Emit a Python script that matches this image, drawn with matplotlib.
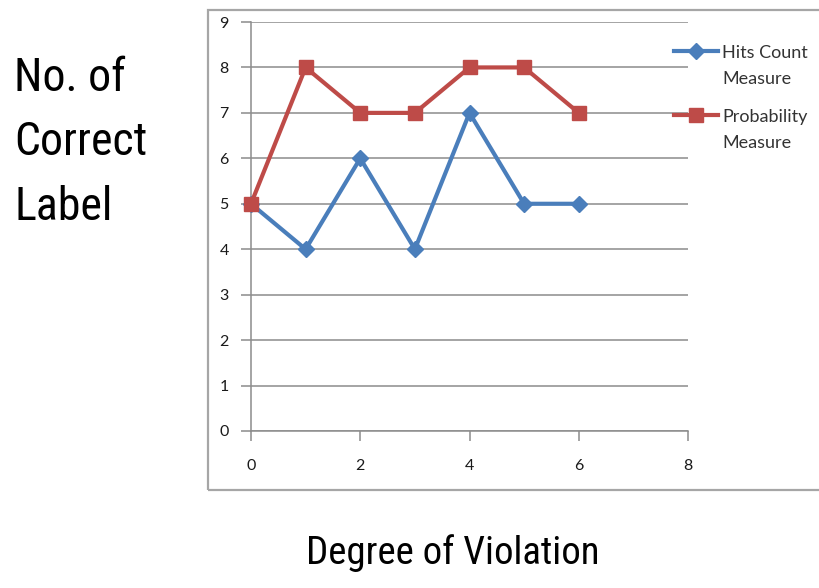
import matplotlib
matplotlib.use("Agg")
import matplotlib.pyplot as plt
from matplotlib.lines import Line2D
from matplotlib.patches import Rectangle

# Series values
degree = [0, 1, 2, 3, 4, 5, 6]
hits_count = [5, 4, 6, 4, 7, 5, 5]
probability = [5, 8, 7, 7, 8, 8, 7]

x_ticks = [0, 2, 4, 6, 8]
y_ticks = [0, 1, 2, 3, 4, 5, 6, 7, 8, 9]

series_names = ["Hits Count\nMeasure", "Probability\nMeasure"]
blue = "#4a7ebb"
red = "#be4b48"
grid_gray = "#8c8c8c"

tick_font = ["Lato", "DejaVu Sans"]
title_font = ["Roboto Condensed", "DejaVu Sans Condensed", "Liberation Sans Narrow", "Roboto", "DejaVu Sans"]

fig = plt.figure(figsize=(8.2, 5.88), dpi=100)

# chart frame
fig.patches.append(Rectangle((208 / 820, 1 - 490 / 588), 1.0, (490 - 10) / 588,
                             transform=fig.transFigure, fill=False,
                             edgecolor="#a6a6a6", linewidth=1.6, zorder=0))

ax = fig.add_axes([251 / 820, 1 - 431 / 588, (688 - 251) / 820, (431 - 22) / 588])
ax.set_xlim(0, 8)
ax.set_ylim(0, 9)
ax.set_xticks(x_ticks)
ax.set_yticks(y_ticks)
ax.yaxis.grid(True, color=grid_gray, linewidth=1.1)
ax.set_axisbelow(True)
for s in ["top", "right"]:
    ax.spines[s].set_visible(False)
for s in ["left", "bottom"]:
    ax.spines[s].set_color(grid_gray)
    ax.spines[s].set_linewidth(1.1)
ax.tick_params(axis="both", colors=grid_gray, width=1.1, length=7, direction="out",
               labelcolor="#1a1a1a")
ax.tick_params(axis="x", pad=13)
ax.tick_params(axis="y", pad=9)
for lab in ax.get_xticklabels() + ax.get_yticklabels():
    lab.set_family(tick_font)
    lab.set_fontsize(11.5)

ax.plot(degree, hits_count, color=blue, linewidth=3, marker="D", markersize=8,
        clip_on=False, zorder=3)
ax.plot(degree, probability, color=red, linewidth=3, marker="s", markersize=10,
        clip_on=False, zorder=4)

# legend entries drawn with the first label line aligned to the handle
legend_y = [51, 115]
legend_style = [dict(color=blue, marker="D", markersize=8),
                dict(color=red, marker="s", markersize=10)]
for name, ypx, style in zip(series_names, legend_y, legend_style):
    yf = 1 - ypx / 588
    fig.lines.append(Line2D([674 / 820, 718 / 820], [yf, yf], transform=fig.transFigure,
                            linewidth=3, color=style["color"]))
    fig.lines.append(Line2D([696 / 820], [yf], transform=fig.transFigure,
                            linestyle="none", color=style["color"],
                            marker=style["marker"], markersize=style["markersize"]))
    fig.text(722 / 820, 1 - (ypx - 6) / 588, name, family=tick_font, fontsize=13,
             color="#333333", va="top", ha="left", linespacing=1.75)

# axis titles
fig.text(14 / 820, 1 - 56 / 588, "No. of\nCorrect\nLabel", family=title_font,
         fontsize=33, va="top", ha="left", linespacing=1.58, color="black")
fig.text(453 / 820, 1 - 553 / 588, "Degree of Violation", family=title_font,
         fontsize=28, va="center", ha="center", color="black")

fig.savefig("out.png", dpi=100)
